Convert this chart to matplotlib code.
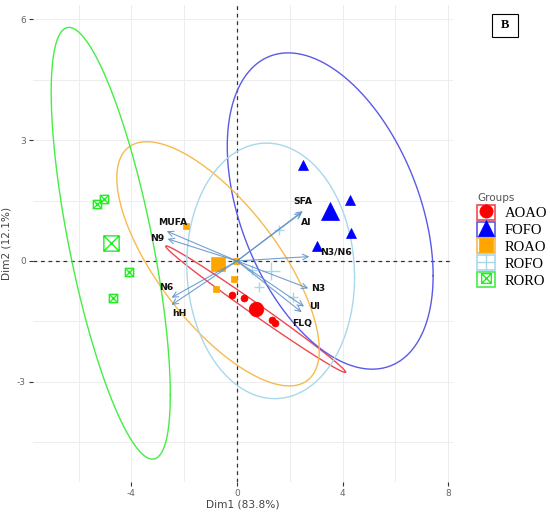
import numpy as np
import matplotlib
matplotlib.use("Agg")
import matplotlib.pyplot as plt
from matplotlib.path import Path
from matplotlib.patches import Rectangle
from matplotlib.lines import Line2D
from matplotlib.legend_handler import HandlerTuple

# ---------------- data ----------------
groups = ["AOAO", "FOFO", "ROAO", "ROFO", "RORO"]

aoao_x = [-0.20, 0.27, 1.31, 1.44]
aoao_y = [-0.84, -0.93, -1.46, -1.55]
fofo_x = [2.50, 4.28, 4.32, 3.02]
fofo_y = [2.38, 1.51, 0.69, 0.38]
roao_x = [-1.93, -0.04, -0.10, -0.80]
roao_y = [0.87, 0.00, -0.45, -0.70]
rofo_x = [1.59, 0.56, 0.83, 2.12]
rofo_y = [0.77, -0.22, -0.64, -0.89]
roro_x = [-5.30, -5.04, -4.09, -4.70]
roro_y = [1.41, 1.54, -0.27, -0.92]

# concentration ellipse spread (variance-like terms) per group
ell_sxx = [11.6, 15.2, 14.7, 10.1, 5.09]
ell_syy = [2.46, 15.4, 9.18, 10.05, 28.7]
ell_sxy = [-5.31, -6.25, -8.18, -0.5, -8.47]

var_names = ["SFA", "AI", "MUFA", "N9", "N6", "hH", "N3/N6", "N3", "UI", "FLQ"]
var_x = [2.49, 2.45, -2.66, -2.63, -2.48, -2.48, 2.74, 2.70, 2.54, 2.45]
var_y = [1.24, 1.20, 0.74, 0.55, -0.91, -1.09, 0.11, -0.68, -1.13, -1.27]

x_ticks = [-4, 0, 4, 8]
y_ticks = [-3, 0, 3, 6]
x_title = "Dim1 (83.8%)"
y_title = "Dim2 (12.1%)"
legend_title = "Groups"
panel_label = "B"

# ---------------- style ----------------
W, H = 550, 515
point_colors = ["#FF0000", "#0000FF", "#FFA500", "#A8D8EA", "#22EE22"]
ell_colors = ["#F04850", "#5A5AE8", "#F7BA4E", "#A8D8EA", "#44EE44"]
arrow_color = "#5B8FC7"

sqx = Path([(-1, -1), (1, -1), (1, 1), (-1, 1), (-1, -1),
            (-1, -1), (1, 1), (-1, 1), (1, -1)],
           [Path.MOVETO, Path.LINETO, Path.LINETO, Path.LINETO, Path.CLOSEPOLY,
            Path.MOVETO, Path.LINETO, Path.MOVETO, Path.LINETO])
markers = ["o", "^", "s", "+", sqx]
filled = [True, True, True, False, False]
ms_small = [5.0, 6.5, 5.0, 7.5, 6.0]
ms_big = [10.5, 13.5, 9.5, 13.0, 11.0]
ms_leg = [9.5, 11.0, 10.0, 13.0, 7.0]

label_off = {"SFA": (0, 7, "center"), "AI": (3, -7, "center"),
             "MUFA": (4, 6, "center"), "N9": (-2, 0, "right"),
             "N6": (-3.5, 7.5, "center"), "hH": (5.5, -6, "center"),
             "N3/N6": (7.5, 3, "left"), "N3": (2, 0, "left"),
             "UI": (3.5, 0, "left"), "FLQ": (0.5, -8, "center")}

plt.rcParams['font.family'] = ['DejaVu Sans']
plt.rcParams['axes.unicode_minus'] = False
fig = plt.figure(figsize=(W / 100, H / 100), dpi=100)
ax = fig.add_axes([33 / W, 1 - 482 / H, (453 - 33) / W, (482 - 5) / H])

xs = [aoao_x, fofo_x, roao_x, rofo_x, roro_x]
ys = [aoao_y, fofo_y, roao_y, rofo_y, roro_y]

t = np.linspace(0, 2 * np.pi, 300)
for i, g in enumerate(groups):
    px, py = np.array(xs[i]), np.array(ys[i])
    cx, cy = px.mean(), py.mean()
    S = np.array([[ell_sxx[i], ell_sxy[i]], [ell_sxy[i], ell_syy[i]]])
    L = np.linalg.cholesky(S)
    e = L @ np.vstack([np.cos(t), np.sin(t)])
    ax.plot(cx + e[0], cy + e[1], color=ell_colors[i], lw=1.0, zorder=2)
    c = point_colors[i]
    kw = dict(ls="none", marker=markers[i], color=c, mec=c,
              mfc=c if filled[i] else "none", mew=1.0 if not filled[i] else 0.5)
    ax.plot(px, py, ms=ms_small[i], zorder=3, **kw)
    ax.plot([cx], [cy], ms=ms_big[i], zorder=3, **kw)

for n, vx, vy in zip(var_names, var_x, var_y):
    ax.annotate("", xy=(vx, vy), xytext=(0, 0),
                arrowprops=dict(arrowstyle="->,head_length=0.4,head_width=0.2",
                                color=arrow_color, lw=0.8, alpha=0.85,
                                shrinkA=0, shrinkB=0), zorder=4)
    dx, dy, ha = label_off[n]
    ax.annotate(n, xy=(vx, vy), xytext=(dx, dy), textcoords="offset points",
                ha=ha, va="center", fontsize=6.7, fontweight="bold",
                color="#111111", zorder=5)

ax.axhline(0, color="#333333", ls=(0, (3, 3)), lw=0.9, zorder=1)
ax.axvline(0, color="#333333", ls=(0, (3, 3)), lw=0.9, zorder=1)

ax.set_xlim((33 - 237) / 26.4, (453 - 237) / 26.4)
ax.set_ylim((261 - 482) / 40.3, (261 - 5) / 40.3)
ax.set_xticks(x_ticks)
ax.set_yticks(y_ticks)
ax.set_xticks([(a + b) / 2 for a, b in zip(x_ticks[:-1], x_ticks[1:])] + [x_ticks[0] - 2], minor=True)
ax.set_yticks([(a + b) / 2 for a, b in zip(y_ticks[:-1], y_ticks[1:])] + [y_ticks[0] - 1.5], minor=True)
ax.grid(which="both", color="#EDEDED", lw=0.7)
ax.set_axisbelow(True)
for s in ax.spines.values():
    s.set_visible(False)
ax.tick_params(which="major", length=3, width=0.8, color="#333333",
               labelsize=6.5, labelcolor="#666666", pad=2)
ax.tick_params(which="minor", length=0)
ax.set_xlabel(x_title, fontsize=7.6, color="#444444", labelpad=1)
ax.set_ylabel(y_title, fontsize=7.6, color="#444444", labelpad=4)

handles = []
for i, g in enumerate(groups):
    c = point_colors[i]
    r = Rectangle((0, 0), 1, 1, fc="none", ec=ell_colors[i], lw=1.2)
    m = Line2D([], [], ls="none", marker=markers[i], color=c, mec=c,
               mfc=c if filled[i] else "none", ms=ms_leg[i],
               mew=1.0 if not filled[i] else 0.5)
    handles.append((r, m))
leg = fig.legend(handles, groups, loc="upper left",
                 bbox_to_anchor=(470 / W, 1 - 186 / H), frameon=False,
                 title=legend_title, title_fontsize=7.5,
                 prop={"family": "Liberation Serif", "size": 10.5},
                 handlelength=1.2, handleheight=1.2, labelspacing=0.1,
                 handletextpad=0.7, borderpad=0, alignment="left",
                 handler_map={tuple: HandlerTuple(ndivide=1)})
leg.get_title().set_color("#555555")

fig.patches.append(Rectangle((492 / W, 1 - 37 / H), 26 / W, 23 / H,
                             transform=fig.transFigure, fc="white",
                             ec="black", lw=0.8))
fig.text(505 / W, 1 - 25.5 / H, panel_label, ha="center", va="center",
         family="Liberation Serif", fontweight="bold", fontsize=9)

fig.savefig("out.png", dpi=100)
